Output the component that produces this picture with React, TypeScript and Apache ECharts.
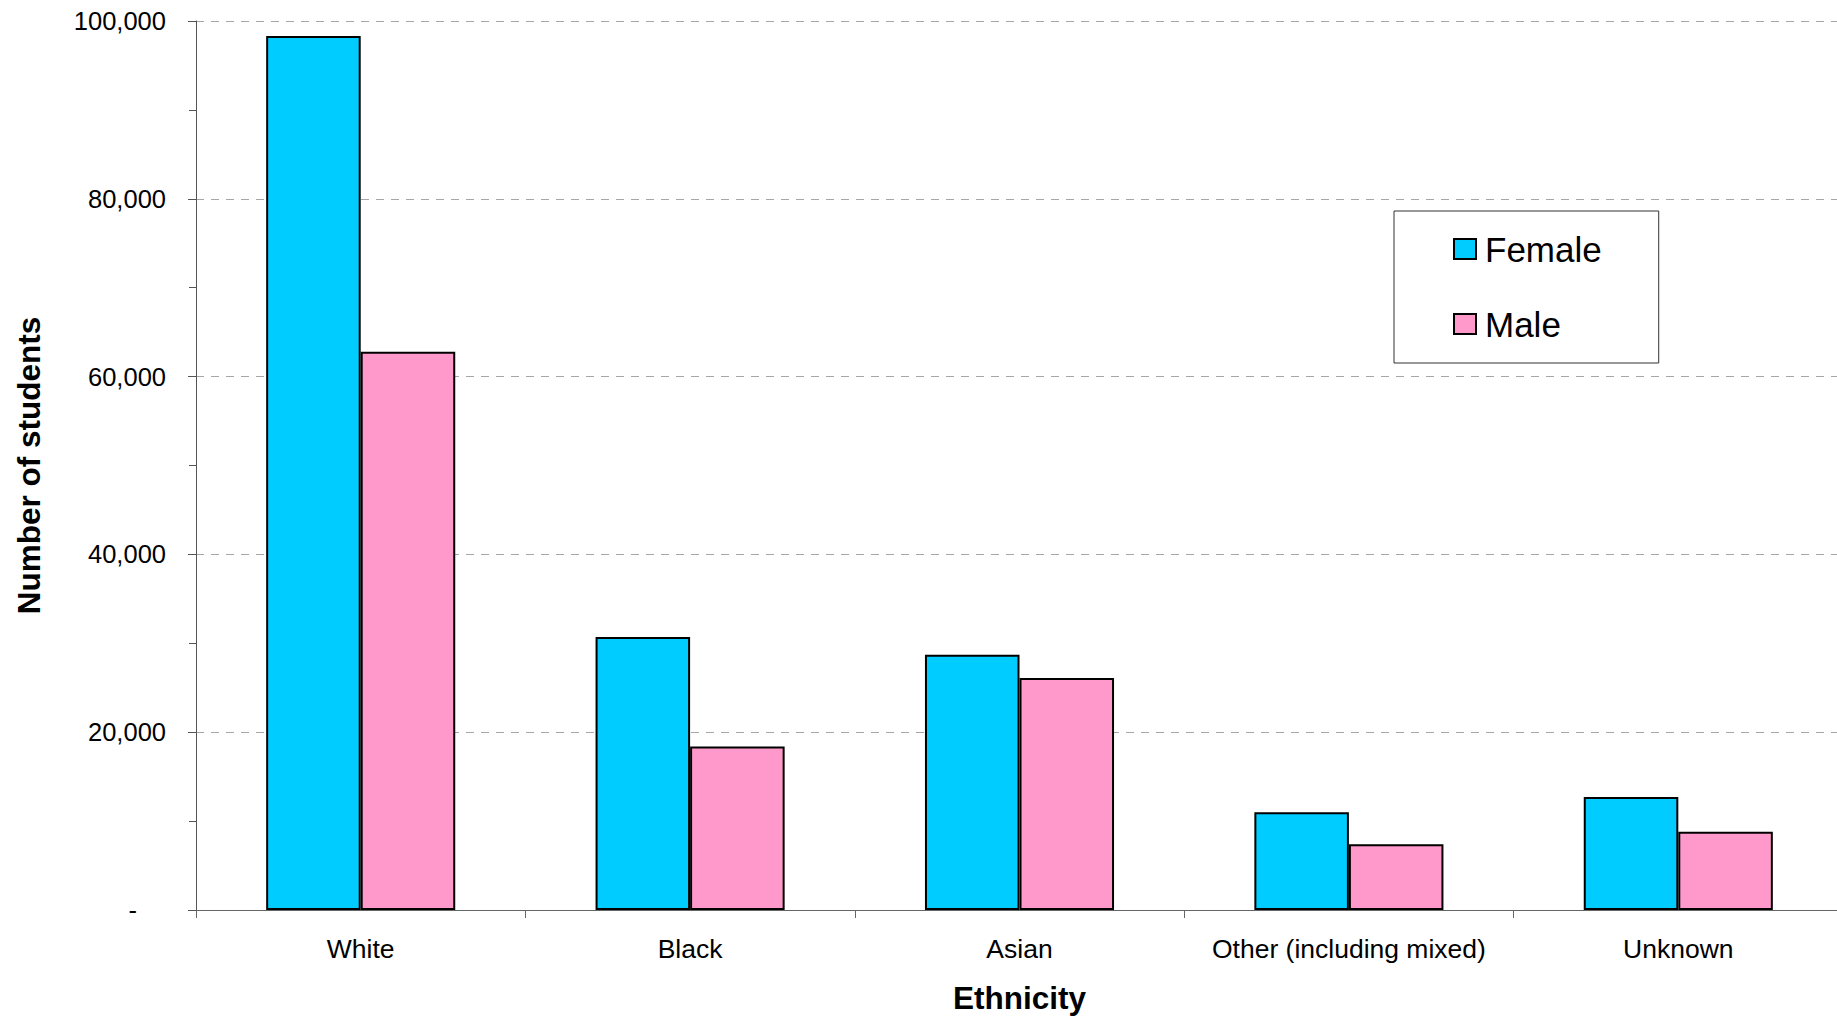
import React, { useEffect, useRef } from "react";
import * as echarts from "echarts";

const categories = ["White", "Black", "Asian", "Other (including mixed)", "Unknown"];
const femaleValues = [98300, 30700, 28700, 11000, 12700];
const maleValues = [62800, 18400, 26100, 7400, 8800];

const FONT = "'Liberation Sans', Arial, Helvetica, sans-serif";

export default function App() {
  const ref = useRef<HTMLDivElement>(null);

  useEffect(() => {
    if (!ref.current) return;
    const chart = echarts.init(ref.current, null, { renderer: "svg" });
    const option: any = {
      animation: false,
      backgroundColor: "#ffffff",
      textStyle: { fontFamily: FONT },
      grid: { left: 196, top: 21, width: 1647, height: 892, containLabel: false },
      legend: {
        show: true,
        orient: "vertical",
        left: 1394,
        top: 211,
        padding: [20, 57, 21, 59],
        itemGap: 39,
        itemWidth: 22,
        itemHeight: 20,
        icon: "rect",
        borderColor: "#333333",
        borderWidth: 1,
        backgroundColor: "#ffffff",
        textStyle: {
          fontFamily: FONT,
          fontSize: 35,
          color: "#000000",
          lineHeight: 36,
          padding: [0, 0, 0, 4],
        },
        data: ["Female", "Male"],
      },
      xAxis: {
        type: "category",
        data: categories,
        name: "Ethnicity",
        nameLocation: "middle",
        nameGap: 72,
        nameTextStyle: { fontFamily: FONT, fontSize: 31.5, fontWeight: "bold", color: "#000000" },
        axisLine: { show: true, lineStyle: { color: "#666666", width: 1 } },
        axisTick: { show: true, inside: false, length: 8, interval: 0, lineStyle: { color: "#666666" } },
        axisLabel: { margin: 25, fontFamily: FONT, fontSize: 26.5, color: "#000000", interval: 0 },
        splitLine: { show: false },
      },
      yAxis: {
        type: "value",
        min: 0,
        max: 100000,
        interval: 20000,
        name: "Number of students",
        nameLocation: "middle",
        nameGap: 151,
        nameTextStyle: { fontFamily: FONT, fontSize: 31.5, fontWeight: "bold", color: "#000000" },
        axisLine: { show: true, lineStyle: { color: "#555555", width: 1 } },
        axisTick: { show: true, inside: false, length: 8, lineStyle: { color: "#555555" } },
        minorTick: { show: true, splitNumber: 2, length: 7, lineStyle: { color: "#555555" } },
        axisLabel: {
          margin: 30,
          fontFamily: FONT,
          fontSize: 25.5,
          color: "#000000",
          formatter: (v: number) => (v === 0 ? "{z|-}" : v.toLocaleString("en-US")),
          rich: {
            z: { fontFamily: FONT, fontSize: 25.5, color: "#000000", padding: [0, 29, 0, 0] },
          },
        },
        splitLine: { show: true, lineStyle: { color: "#a6a6a6", type: [8, 7], width: 1 } },
      },
      series: [
        {
          name: "Female",
          type: "bar",
          data: femaleValues,
          barGap: "0%",
          barCategoryGap: "42.6%",
          itemStyle: { color: "#00CCFF", borderColor: "#000000", borderWidth: 2 },
        },
        {
          name: "Male",
          type: "bar",
          data: maleValues,
          barGap: "0%",
          barCategoryGap: "42.6%",
          itemStyle: { color: "#FF99CC", borderColor: "#000000", borderWidth: 2 },
        },
      ],
    };
    chart.setOption(option);
    return () => chart.dispose();
  }, []);

  return (
    <div
      style={{
        position: "absolute",
        left: 0,
        top: 0,
        width: 1837,
        height: 1019,
        overflow: "hidden",
        background: "#ffffff",
      }}
    >
      <div ref={ref} style={{ position: "absolute", left: 0, top: 0, width: 1850, height: 1019 }} />
    </div>
  );
}
